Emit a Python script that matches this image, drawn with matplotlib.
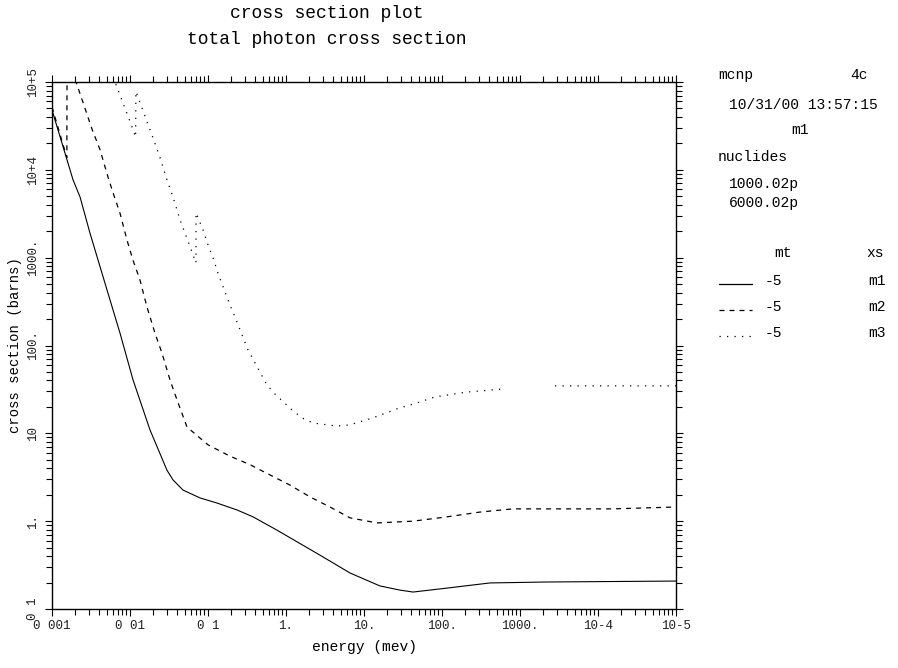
import matplotlib
matplotlib.use('Agg')
import matplotlib.pyplot as plt
import numpy as np

plt.rcParams['font.family'] = ['Liberation Mono', 'DejaVu Sans Mono']

# m1, solid line
energy_m1 = [0.001, 0.00116, 0.00186, 0.00229, 0.00307, 0.00507, 0.00745, 0.0109,
             0.018, 0.0298, 0.0356, 0.0478, 0.0789, 0.130, 0.236, 0.378, 0.767,
             2.73, 6.62, 16.0, 29.0, 42.5, 116, 412, 2220, 100000]
xs_m1 = [48000, 31000, 7700, 4900, 1900, 430, 138, 41,
         11, 3.8, 2.95, 2.26, 1.84, 1.61, 1.34, 1.12, 0.79,
         0.41, 0.257, 0.183, 0.164, 0.156, 0.173, 0.198, 0.203, 0.208]

# m2, dashed line
energy_m2 = [0.001, 0.00155, 0.00156, 0.00249, 0.00326, 0.00412, 0.00522, 0.00605,
             0.00745, 0.00916, 0.0109, 0.0134, 0.0165, 0.0209, 0.0257, 0.0326,
             0.0401, 0.0538, 0.1, 0.191, 0.345, 0.624, 1.12, 2.03, 3.66, 6.62,
             14.7, 42.5, 116, 307, 813, 15500, 100000]
xs_m2 = [52000, 13800, 200000, 59000, 29000, 17000, 8300, 5500,
         3200, 1580, 940, 560, 275, 138, 82, 40.5,
         24, 11.8, 7.4, 5.5, 4.4, 3.36, 2.58, 1.89, 1.45, 1.09,
         0.955, 1.0, 1.12, 1.27, 1.38, 1.38, 1.45]

# m3, dotted line
energy_m3 = [0.005, 0.00643, 0.0106, 0.0118, 0.0119, 0.0191, 0.0243, 0.0298,
             0.0356, 0.0438, 0.0507, 0.0624, 0.0701, 0.0702, 0.0863, 0.1, 0.116,
             0.134, 0.191, 0.222, 0.273, 0.326, 0.570, 0.723, 1.19, 1.60, 2.22,
             4.51, 6.62, 13.0, 26.5, 47.8, 81.3, 209, 605, 1200, 2810, 100000]
xs_m3 = [200000, 100000, 31000, 23500, 78000, 25000, 13700, 7700,
         4900, 2700, 1900, 1160, 870, 3240, 2070, 1400, 1000,
         670, 290, 212, 132, 89, 35.5, 28, 18.5, 15, 13.1,
         12.1, 12.5, 15, 19, 22.2, 26, 29.5, 32, np.nan, 34.7, 34.7]

xtick_vals = [0.001, 0.01, 0.1, 1, 10, 100, 1000, 1e4, 1e5]
xtick_text = ['0 001', '0 01', '0 1', '1.', '10.', '100.', '1000.', '10-4', '10-5']
ytick_vals = [0.1, 1, 10, 100, 1000, 1e4, 1e5]
ytick_text = ['0 1', '1.', '10', '100.', '1000.', '10+4', '10+5']

fig = plt.figure(figsize=(8.98, 6.68), dpi=100)
ax = fig.add_axes([52 / 898, 59 / 668, 624 / 898, 527 / 668])

ax.plot(energy_m1, xs_m1, color='black', lw=0.8, ls='-')
ax.plot(energy_m2, xs_m2, color='black', lw=0.9, ls=(0, (4, 4)))
ax.plot(energy_m3, xs_m3, color='black', lw=0.9, ls=(0, (1, 5)))

ax.set_xscale('log')
ax.set_yscale('log')
ax.set_xlim(0.001, 1e5)
ax.set_ylim(0.1, 1e5)

ax.set_xticks(xtick_vals)
ax.set_xticklabels(xtick_text, fontsize=9, color='#222222')
ax.set_yticks(ytick_vals)
ax.set_yticklabels(ytick_text, fontsize=9, color='#222222', rotation=90, va='center')
ax.xaxis.set_minor_locator(matplotlib.ticker.LogLocator(base=10, subs=np.arange(2, 10), numticks=20))
ax.yaxis.set_minor_locator(matplotlib.ticker.LogLocator(base=10, subs=np.arange(2, 10), numticks=20))
ax.xaxis.set_minor_formatter(matplotlib.ticker.NullFormatter())
ax.yaxis.set_minor_formatter(matplotlib.ticker.NullFormatter())
ax.tick_params(which='both', direction='out', top=True, right=True, width=0.8)
ax.tick_params(which='major', length=5)
ax.tick_params(axis='x', which='major', pad=3)
ax.tick_params(axis='y', which='major', pad=4)
ax.tick_params(which='minor', length=4)
for s in ax.spines.values():
    s.set_linewidth(1.0)

ax.set_xlabel('energy (mev)', fontsize=10.5, labelpad=6)
ax.set_ylabel('cross section (barns)', fontsize=10, labelpad=4)

fig.text(327 / 898, 1 - 13 / 668, 'cross section plot', fontsize=13, ha='center', va='center')
fig.text(327 / 898, 1 - 40 / 668, 'total photon cross section', fontsize=13, ha='center', va='center')

# right side info block
def rt(x, y, s, ha='left'):
    fig.text(x / 898, 1 - y / 668, s, fontsize=10.5, ha=ha, va='center')

rt(718, 75, 'mcnp')
rt(850, 75, '4c')
rt(729, 105, '10/31/00 13:57:15')
rt(800, 130, 'm1', ha='center')
rt(718, 157, 'nuclides')
rt(729, 184, '1000.02p')
rt(729, 203, '6000.02p')
rt(783, 253, 'mt', ha='center')
rt(875, 253, 'xs', ha='center')

legend_styles = ['-', (0, (4, 4)), (0, (1, 5))]
legend_names = ['m1', 'm2', 'm3']
legend_y = [281, 307, 333]
for st, nm, yy in zip(legend_styles, legend_names, legend_y):
    fig.add_artist(matplotlib.lines.Line2D([719 / 898, 752 / 898], [1 - (yy + 3) / 668] * 2,
                                           color='black', lw=0.9, ls=st))
    rt(765, yy, '-5')
    rt(868, yy, nm)

plt.savefig('out.png', dpi=100)
